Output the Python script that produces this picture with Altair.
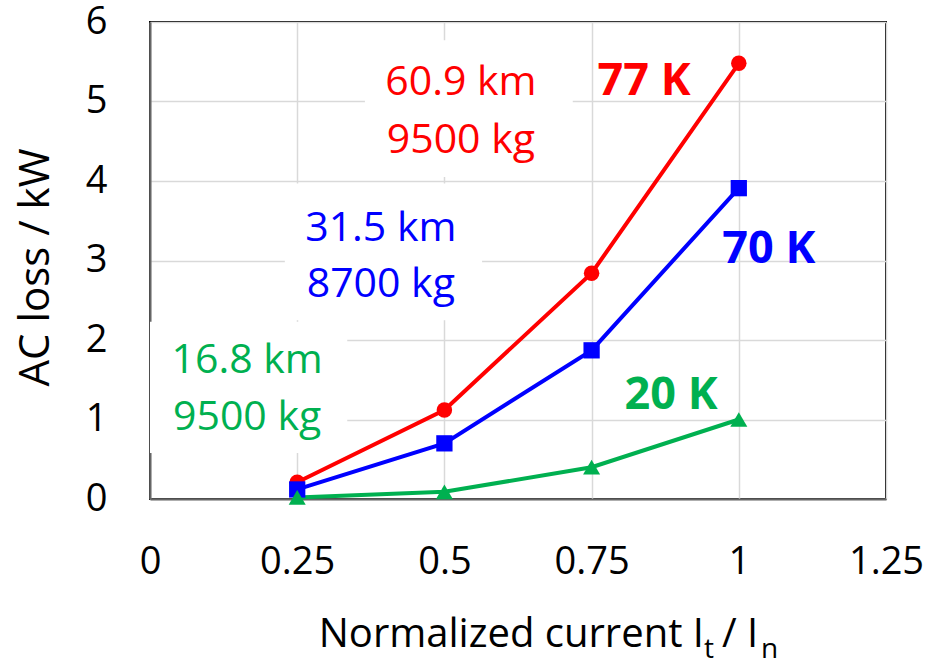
import altair as alt
import pandas as pd

# ---- data ----
current = [0.25, 0.5, 0.75, 1.0]
loss_77K = [0.21, 1.12, 2.84, 5.48]
loss_70K = [0.12, 0.70, 1.87, 3.91]
loss_20K = [0.02, 0.09, 0.40, 1.00]
series_names = ["77 K", "70 K", "20 K"]
series_colors = ["#FF0000", "#0000FF", "#00B050"]
series_shapes = ["circle", "square", "triangle-up"]

x_ticks = [0, 0.25, 0.5, 0.75, 1.0, 1.25]
y_grid = [0, 0.5, 1, 1.5, 2, 2.5, 3, 3.5, 4, 4.5, 5, 5.5, 6]

# annotations (data coordinates)
note_text = ["60.9 km", "9500 kg", "31.5 km", "8700 kg", "16.8 km", "9500 kg"]
note_x = [0.528, 0.528, 0.392, 0.392, 0.165, 0.165]
note_y = [5.08, 4.35, 3.245, 2.54, 1.585, 0.868]
note_series = ["77 K", "77 K", "70 K", "70 K", "20 K", "20 K"]

tag_x = [0.839, 1.051, 0.885]
tag_y = [5.08, 2.97, 1.13]

box_x1 = [0.365, 0.229, 0.0]
box_x2 = [0.718, 0.564, 0.335]
box_y1 = [4.05, 2.25, 0.58]
box_y2 = [5.77, 3.97, 2.23]

FONT = "Open Sans"

rows = []
for name, vals in zip(series_names, [loss_77K, loss_70K, loss_20K]):
    for c, v in zip(current, vals):
        rows.append({"current": c, "loss": v, "series": name})
df = pd.DataFrame(rows)

notes = pd.DataFrame({"text": note_text, "x": note_x, "y": note_y, "series": note_series})
tags = pd.DataFrame({"text": series_names, "x": tag_x, "y": tag_y, "series": series_names})
boxes = pd.DataFrame({"x1": box_x1, "x2": box_x2, "y1": box_y1, "y2": box_y2})

xscale = alt.Scale(domain=[0, 1.25], nice=False, zero=False)
yscale = alt.Scale(domain=[0, 6], nice=False)
color = alt.Color("series:N", scale=alt.Scale(domain=series_names, range=series_colors), legend=None)

x_axis = alt.Axis(values=x_ticks, format="~g", title=None, ticks=False,
                  labelFontSize=38, labelPadding=44, labelFont=FONT, labelColor="black",
                  labelFlush=False, labelOverlap=False, labelBound=False,
                  grid=True, gridColor="#d9d9d9", gridWidth=1.5,
                  domain=True, domainColor="#666666", domainWidth=2)
y_axis = alt.Axis(values=y_grid, format="~g",
                  labelExpr="datum.value % 1 == 0 ? datum.label : ''",
                  title="AC loss / kW", titleFont=FONT, titleFontSize=42, titleFontWeight="normal",
                  titleColor="black", titleAngle=270, titleX=-102, titleY=245,
                  titleAlign="center", titleBaseline="alphabetic",
                  ticks=False, labelFontSize=38, labelPadding=43, labelFont=FONT, labelColor="black",
                  labelFlush=False, labelOverlap=False, labelBound=False,
                  grid=True, gridColor="#d9d9d9", gridWidth=1.5,
                  domain=True, domainColor="#666666", domainWidth=2)

base = alt.Chart(df)

rects = alt.Chart(boxes).mark_rect(color="white").encode(
    x=alt.X("x1:Q", scale=xscale, axis=x_axis), x2="x2:Q",
    y=alt.Y("y1:Q", scale=yscale, axis=y_axis), y2="y2:Q")

lines = base.mark_line(strokeWidth=4).encode(
    x=alt.X("current:Q", scale=xscale),
    y=alt.Y("loss:Q", scale=yscale),
    color=color)

pts = base.mark_point(filled=True, opacity=1).encode(
    x=alt.X("current:Q", scale=xscale),
    y=alt.Y("loss:Q", scale=yscale),
    color=color,
    shape=alt.Shape("series:N", scale=alt.Scale(domain=series_names, range=series_shapes), legend=None),
    size=alt.Size("series:N", scale=alt.Scale(domain=series_names, range=[240, 290, 300]), legend=None))

note_layer = alt.Chart(notes).mark_text(font=FONT, fontSize=41, baseline="alphabetic", align="center").encode(
    x=alt.X("x:Q", scale=xscale), y=alt.Y("y:Q", scale=yscale), text="text:N", color=color)

tag_layer = alt.Chart(tags).mark_text(font=FONT, fontSize=45, fontWeight="bold", baseline="alphabetic", align="center").encode(
    x=alt.X("x:Q", scale=xscale), y=alt.Y("y:Q", scale=yscale), text="text:N", color=color)

one = pd.DataFrame({"k": [0]})
t_main = alt.Chart(one).mark_text(text="Normalized current  I", font=FONT, fontSize=40, align="right",
                                  baseline="alphabetic", color="black").encode(
    x=alt.value(554), y=alt.value(625))
t_sub1 = alt.Chart(one).mark_text(text="t", font=FONT, fontSize=28, align="left",
                                  baseline="alphabetic", color="black").encode(
    x=alt.value(554), y=alt.value(636))
t_mid = alt.Chart(one).mark_text(text="/ I", font=FONT, fontSize=40, align="left",
                                 baseline="alphabetic", color="black").encode(
    x=alt.value(572), y=alt.value(625))
t_sub2 = alt.Chart(one).mark_text(text="n", font=FONT, fontSize=28, align="left",
                                  baseline="alphabetic", color="black").encode(
    x=alt.value(611), y=alt.value(636))

chart = alt.layer(rects, lines, pts, note_layer, tag_layer, t_main, t_sub1, t_mid, t_sub2).properties(
    width=736, height=477,
    autosize=alt.AutoSizeParams(type="none"),
    padding={"left": 150, "top": 22, "right": 40, "bottom": 162},
    background="white",
).configure_view(stroke="black", strokeWidth=2)

chart.save("out.html", embed_options={"renderer": "svg", "actions": False})
